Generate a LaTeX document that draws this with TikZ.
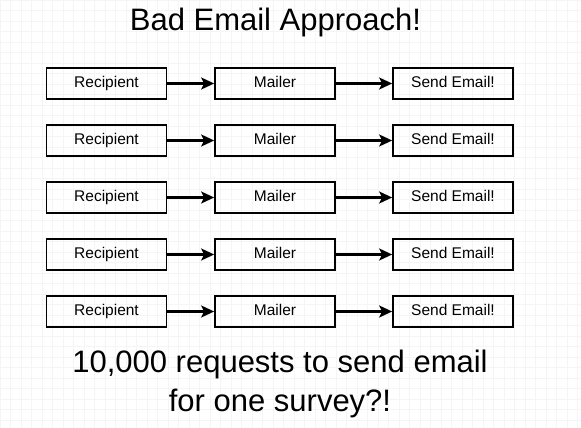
\documentclass[tikz,border=0pt]{standalone}
\usepackage{fontspec}
\setmainfont{Liberation Sans}
\usetikzlibrary{arrows.meta}

\tikzset{
  stage/.style={draw, line width=1.7pt, minimum width=120pt, minimum height=31pt,
    inner sep=0pt, text height=11pt, text depth=3pt, font=\fontsize{15.5}{18}\selectfont},
  flow/.style={line width=2.4pt, -{Stealth[length=13pt,width=12pt,inset=3pt]}},
  bigtext/.style={font=\fontsize{31}{39}\selectfont, align=center}
}

\begin{document}
\begin{tikzpicture}[x=1pt,y=-1pt]
        % Page and faint grid
        \useasboundingbox (0,0) rectangle (581,428);
        \fill[white] (0,0) rectangle (581,428);
        \draw[black!4, line width=0.5pt, step=10.5pt] (0,0) grid (581,428);

        % Title
        \node[bigtext] (title) at (275.5,22) {Bad Email Approach!};

        % Five rows of the same chain
        \foreach \i/\y in {1/83.5, 2/140.5, 3/197.5, 4/254.5, 5/311.5} {
          \node[stage] (rec\i) at (106.5,\y) {Recipient};
          \node[stage] (mail\i) at (275,\y) {Mailer};
          \node[stage] (send\i) at (453,\y) {Send Email!};
          \draw[flow] (rec\i) -- (mail\i);
          \draw[flow] (mail\i) -- (send\i);
        }

        % Bottom remark
        \node[bigtext] (note) at (280,384) {10,000 requests to send email\\for one survey?!};
    \end{tikzpicture}
\end{document}
